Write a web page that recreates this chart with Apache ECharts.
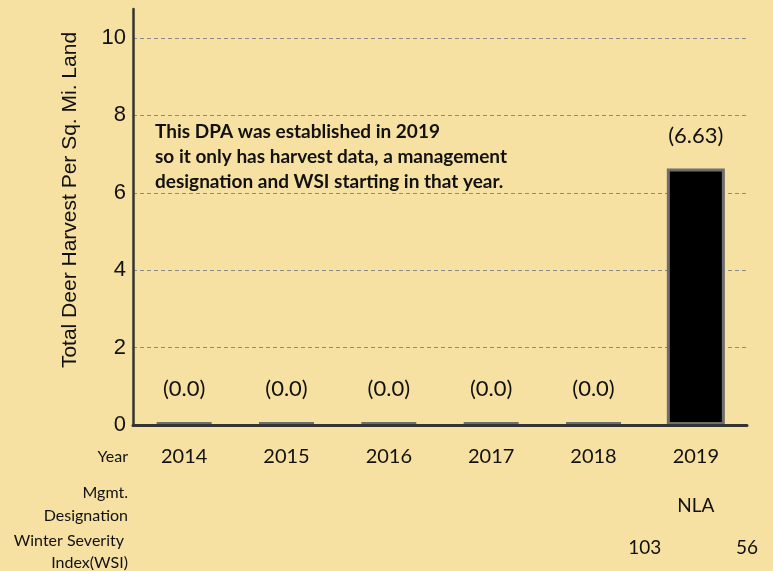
<!DOCTYPE html>
<html>
<head>
<meta charset="utf-8">
<script src="https://cdn.jsdelivr.net/npm/echarts@6/dist/echarts.min.js"></script>
<style>
  html, body { margin: 0; padding: 0; background: #f6e0a2; }
  #chart { width: 773px; height: 571px; }
</style>
</head>
<body>
<div id="chart"></div>
<script>
  // data
  var years = ['2014', '2015', '2016', '2017', '2018', '2019'];
  var harvest = [0, 0, 0, 0, 0, 6.63];
  var mgmt = ['', '', '', '', '', 'NLA'];
  // WSI sits half a band to the right in the original table
  var wsi = ['', '', '', '', '', '103', '56'];
  var rowLabels = [
    { text: 'Year', y: 457 },
    { text: 'Mgmt.', y: 493 },
    { text: 'Designation', y: 516 },
    { text: 'Winter Severity', y: 541, x: 124 },
    { text: 'Index(WSI)', y: 563 }
  ];
  var note = 'This DPA was established in 2019\nso it only has harvest data, a management\ndesignation and WSI starting in that year.';

  var chart = echarts.init(document.getElementById('chart'));

  var option = {
    backgroundColor: '#f6e0a2',
    animation: false,
    grid: { left: 133, right: 26, top: 9, bottom: 146, containLabel: false },
    xAxis: [{
      type: 'category',
      data: years,
      z: 3,
      axisLine: { lineStyle: { color: '#333', width: 3 } },
      axisTick: { show: false },
      axisLabel: { margin: 22, color: '#111', fontSize: 20, fontFamily: 'Lato' }
    }, {
      type: 'category',
      data: mgmt,
      position: 'bottom',
      offset: 49,
      axisLine: { show: false },
      axisTick: { show: false },
      axisLabel: { margin: 22, color: '#111', fontSize: 19, fontFamily: 'Lato', interval: 0 }
    }, {
      type: 'category',
      data: wsi,
      boundaryGap: false,
      position: 'bottom',
      offset: 91,
      axisLine: { show: false },
      axisTick: { show: false },
      axisLabel: { margin: 22, color: '#111', fontSize: 19, fontFamily: 'Lato', interval: 0, showMaxLabel: true }
    }],
    yAxis: {
      type: 'value',
      min: 0,
      max: 10.75,
      interval: 2,
      name: 'Total Deer Harvest Per Sq. Mi. Land',
      nameLocation: 'middle',
      nameGap: 52,
      nameTextStyle: { color: '#111', fontSize: 21, fontFamily: 'Liberation Sans', padding: [0, 0, 0, 34] },
      axisLine: { show: true, lineStyle: { color: '#333', width: 2.5 } },
      axisTick: { show: false },
      axisLabel: { margin: 7, color: '#111', fontSize: 22, fontFamily: 'Liberation Sans', showMaxLabel: false },
      splitLine: {
        show: true,
        showMinLine: false,
        showMaxLine: false,
        lineStyle: { color: '#8a8a8a', type: [4, 3], width: 1 }
      }
    },
    series: [{
      type: 'bar',
      data: harvest,
      barWidth: 58,
      barMinHeight: 3,
      itemStyle: { color: '#000', borderColor: '#6e6e6e', borderWidth: 3 },
      label: {
        show: true,
        position: 'top',
        distance: 22,
        color: '#111',
        fontSize: 22,
        fontFamily: 'Lato',
        formatter: function (p) {
          return p.value === 0 ? '(0.0)' : '(' + p.value + ')';
        }
      }
    }],
    graphic: rowLabels.map(function (r) {
      return {
        type: 'text',
        x: r.x || 128,
        y: r.y,
        style: {
          text: r.text,
          fill: '#111',
          font: '16px Lato',
          align: 'right',
          verticalAlign: 'middle'
        }
      };
    }).concat([{
      type: 'text',
      x: 155,
      y: 119,
      style: {
        text: note,
        fill: '#111',
        font: 'bold 19px Lato',
        lineHeight: 25
      }
    }])
  };

  chart.setOption(option);
</script>
</body>
</html>
